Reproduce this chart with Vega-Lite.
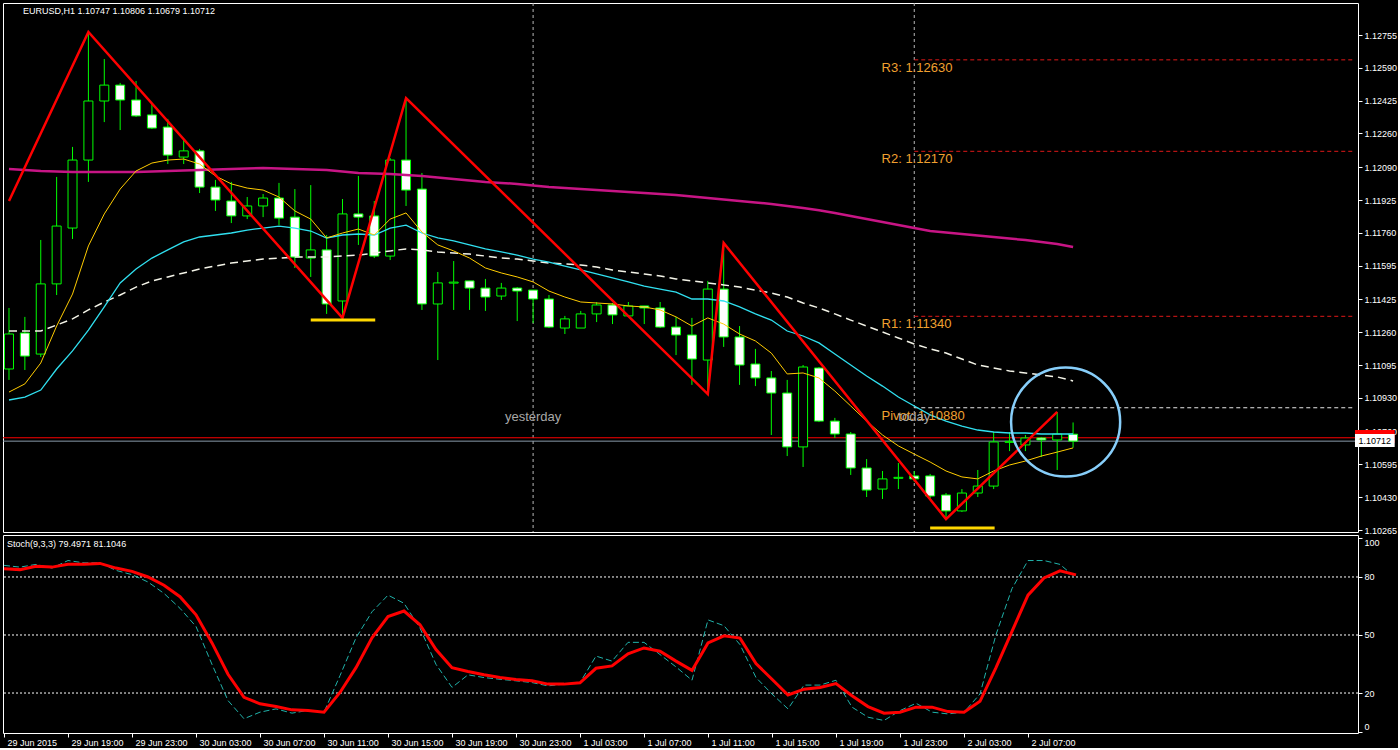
{
"$schema": "https://vega.github.io/schema/vega-lite/v6.json",
"background": "black",
"padding": {"left": 2, "top": 2, "right": 0, "bottom": 0},
"bounds": "flush",
"spacing": 3,
"config": {"view": {"stroke": "white", "strokeWidth": 1}, "font": "Liberation Sans", "axis": {"grid": false, "domain": false, "labelColor": "white", "tickColor": "white", "labelFontSize": 9, "labelFont": "Liberation Sans", "labelOverlap": false}},
"datasets": {
"bars": [
{"b":0,"o":1.11075,"h":1.11382,"l":1.11020,"c":1.11251,"m1":1.10959,"m2":1.10919,"m3":1.11266,"m4":1.12081,"k":86,"d":84.3},
{"b":1,"o":1.11256,"h":1.11337,"l":1.11070,"c":1.11140,"m1":1.11000,"m2":1.10934,"m3":1.11266,"m4":1.12076,"k":85.1,"d":83.8},
{"b":2,"o":1.11150,"h":1.11724,"l":1.11135,"c":1.11503,"m1":1.11105,"m2":1.10969,"m3":1.11266,"m4":1.12071,"k":86.5,"d":85.5},
{"b":3,"o":1.11503,"h":1.12041,"l":1.11447,"c":1.11794,"m1":1.11291,"m2":1.11075,"m3":1.11296,"m4":1.12068,"k":84.6,"d":85.1},
{"b":4,"o":1.11784,"h":1.12192,"l":1.11729,"c":1.12126,"m1":1.11452,"m2":1.11166,"m3":1.11327,"m4":1.12066,"k":88.5,"d":86.6},
{"b":5,"o":1.12126,"h":1.12770,"l":1.12016,"c":1.12423,"m1":1.11694,"m2":1.11271,"m3":1.11372,"m4":1.12066,"k":87.3,"d":86.6},
{"b":6,"o":1.12423,"h":1.12634,"l":1.12317,"c":1.12503,"m1":1.11855,"m2":1.11387,"m3":1.11412,"m4":1.12066,"k":87.3,"d":87},
{"b":7,"o":1.12503,"h":1.12514,"l":1.12277,"c":1.12428,"m1":1.11980,"m2":1.11508,"m3":1.11447,"m4":1.12066,"k":83.4,"d":84.6},
{"b":8,"o":1.12428,"h":1.12524,"l":1.12343,"c":1.12348,"m1":1.12071,"m2":1.11578,"m3":1.11487,"m4":1.12066,"k":81.2,"d":82.9},
{"b":9,"o":1.12353,"h":1.12408,"l":1.12282,"c":1.12287,"m1":1.12111,"m2":1.11633,"m3":1.11518,"m4":1.12068,"k":77.4,"d":80},
{"b":10,"o":1.12292,"h":1.12333,"l":1.12106,"c":1.12151,"m1":1.12126,"m2":1.11674,"m3":1.11538,"m4":1.12071,"k":71.5,"d":75.7},
{"b":11,"o":1.12141,"h":1.12232,"l":1.12106,"c":1.12172,"m1":1.12131,"m2":1.11714,"m3":1.11558,"m4":1.12074,"k":63.8,"d":69.8},
{"b":12,"o":1.12172,"h":1.12182,"l":1.11960,"c":1.11990,"m1":1.12106,"m2":1.11739,"m3":1.11578,"m4":1.12076,"k":54.4,"d":60.4},
{"b":13,"o":1.11990,"h":1.12026,"l":1.11870,"c":1.11925,"m1":1.12046,"m2":1.11749,"m3":1.11593,"m4":1.12079,"k":34.8,"d":45.9},
{"b":14,"o":1.11920,"h":1.12016,"l":1.11809,"c":1.11845,"m1":1.12006,"m2":1.11759,"m3":1.11608,"m4":1.12081,"k":16.1,"d":29.7},
{"b":15,"o":1.11845,"h":1.11940,"l":1.11829,"c":1.11895,"m1":1.11985,"m2":1.11774,"m3":1.11618,"m4":1.12084,"k":6.7,"d":17.8},
{"b":16,"o":1.11895,"h":1.11955,"l":1.11839,"c":1.11935,"m1":1.11975,"m2":1.11784,"m3":1.11628,"m4":1.12086,"k":10.1,"d":14.4},
{"b":17,"o":1.11935,"h":1.12011,"l":1.11799,"c":1.11834,"m1":1.11940,"m2":1.11794,"m3":1.11633,"m4":1.12084,"k":11.8,"d":13},
{"b":18,"o":1.11839,"h":1.11980,"l":1.11583,"c":1.11638,"m1":1.11870,"m2":1.11784,"m3":1.11638,"m4":1.12081,"k":9.6,"d":11.3},
{"b":19,"o":1.11633,"h":1.12000,"l":1.11538,"c":1.11674,"m1":1.11829,"m2":1.11769,"m3":1.11638,"m4":1.12079,"k":11,"d":11},
{"b":20,"o":1.11674,"h":1.11749,"l":1.11352,"c":1.11402,"m1":1.11734,"m2":1.11734,"m3":1.11638,"m4":1.12076,"k":10.1,"d":10.1},
{"b":21,"o":1.11417,"h":1.11930,"l":1.11332,"c":1.11855,"m1":1.11759,"m2":1.11749,"m3":1.11643,"m4":1.12068,"k":29,"d":20.3},
{"b":22,"o":1.11855,"h":1.12046,"l":1.11699,"c":1.11839,"m1":1.11779,"m2":1.11754,"m3":1.11648,"m4":1.12061,"k":48.5,"d":33.1},
{"b":23,"o":1.11845,"h":1.11920,"l":1.11633,"c":1.11643,"m1":1.11749,"m2":1.11749,"m3":1.11658,"m4":1.12058,"k":62,"d":48.5},
{"b":24,"o":1.11643,"h":1.12136,"l":1.11623,"c":1.12126,"m1":1.11829,"m2":1.11784,"m3":1.11669,"m4":1.12056,"k":70.6,"d":59.5},
{"b":25,"o":1.12126,"h":1.12438,"l":1.11895,"c":1.11975,"m1":1.11860,"m2":1.11799,"m3":1.11679,"m4":1.12051,"k":66.4,"d":62.4},
{"b":26,"o":1.11980,"h":1.12061,"l":1.11372,"c":1.11402,"m1":1.11764,"m2":1.11759,"m3":1.11674,"m4":1.12046,"k":53.6,"d":55.3},
{"b":27,"o":1.11402,"h":1.11563,"l":1.11120,"c":1.11508,"m1":1.11699,"m2":1.11734,"m3":1.11664,"m4":1.12038,"k":34.8,"d":42.5},
{"b":28,"o":1.11507,"h":1.11618,"l":1.11372,"c":1.11512,"m1":1.11669,"m2":1.11719,"m3":1.11658,"m4":1.12031,"k":22.9,"d":33.1},
{"b":29,"o":1.11518,"h":1.11518,"l":1.11372,"c":1.11482,"m1":1.11633,"m2":1.11699,"m3":1.11653,"m4":1.12023,"k":29.4,"d":31.1},
{"b":30,"o":1.11482,"h":1.11528,"l":1.11367,"c":1.11437,"m1":1.11583,"m2":1.11679,"m3":1.11643,"m4":1.12016,"k":28,"d":29.4},
{"b":31,"o":1.11442,"h":1.11508,"l":1.11422,"c":1.11482,"m1":1.11558,"m2":1.11664,"m3":1.11633,"m4":1.12011,"k":27.1,"d":28},
{"b":32,"o":1.11482,"h":1.11487,"l":1.11316,"c":1.11467,"m1":1.11538,"m2":1.11648,"m3":1.11628,"m4":1.12006,"k":26.3,"d":27},
{"b":33,"o":1.11472,"h":1.11472,"l":1.11306,"c":1.11427,"m1":1.11513,"m2":1.11628,"m3":1.11618,"m4":1.11998,"k":25.4,"d":26.3},
{"b":34,"o":1.11427,"h":1.11447,"l":1.11281,"c":1.11286,"m1":1.11467,"m2":1.11613,"m3":1.11608,"m4":1.11990,"k":23.7,"d":24.6},
{"b":35,"o":1.11281,"h":1.11342,"l":1.11251,"c":1.11327,"m1":1.11437,"m2":1.11593,"m3":1.11603,"m4":1.11985,"k":24.6,"d":24.6},
{"b":36,"o":1.11281,"h":1.11367,"l":1.11281,"c":1.11352,"m1":1.11412,"m2":1.11573,"m3":1.11598,"m4":1.11980,"k":25.4,"d":25.3},
{"b":37,"o":1.11352,"h":1.11412,"l":1.11311,"c":1.11397,"m1":1.11407,"m2":1.11553,"m3":1.11588,"m4":1.11975,"k":39.1,"d":32.8},
{"b":38,"o":1.11397,"h":1.11407,"l":1.11301,"c":1.11347,"m1":1.11402,"m2":1.11533,"m3":1.11573,"m4":1.11970,"k":36.5,"d":34},
{"b":39,"o":1.11342,"h":1.11412,"l":1.11342,"c":1.11392,"m1":1.11392,"m2":1.11513,"m3":1.11563,"m4":1.11965,"k":46.2,"d":40.3},
{"b":40,"o":1.11392,"h":1.11392,"l":1.11301,"c":1.11382,"m1":1.11387,"m2":1.11492,"m3":1.11553,"m4":1.11960,"k":46.2,"d":43.3},
{"b":41,"o":1.11382,"h":1.11412,"l":1.11281,"c":1.11286,"m1":1.11372,"m2":1.11477,"m3":1.11543,"m4":1.11955,"k":39.9,"d":41.6},
{"b":42,"o":1.11286,"h":1.11337,"l":1.11145,"c":1.11246,"m1":1.11337,"m2":1.11462,"m3":1.11528,"m4":1.11950,"k":33.5,"d":36.5},
{"b":43,"o":1.11246,"h":1.11332,"l":1.10995,"c":1.11125,"m1":1.11291,"m2":1.11427,"m3":1.11518,"m4":1.11943,"k":26.6,"d":31.7},
{"b":44,"o":1.11120,"h":1.11518,"l":1.10949,"c":1.11477,"m1":1.11332,"m2":1.11427,"m3":1.11508,"m4":1.11935,"k":57.8,"d":45.9},
{"b":45,"o":1.11477,"h":1.11709,"l":1.11186,"c":1.11236,"m1":1.11301,"m2":1.11417,"m3":1.11498,"m4":1.11928,"k":54.8,"d":49.6},
{"b":46,"o":1.11236,"h":1.11291,"l":1.10995,"c":1.11095,"m1":1.11251,"m2":1.11387,"m3":1.11487,"m4":1.11920,"k":45,"d":48.4},
{"b":47,"o":1.11100,"h":1.11176,"l":1.10989,"c":1.11030,"m1":1.11216,"m2":1.11352,"m3":1.11472,"m4":1.11913,"k":28,"d":35.2},
{"b":48,"o":1.11030,"h":1.11065,"l":1.10743,"c":1.10954,"m1":1.11155,"m2":1.11321,"m3":1.11457,"m4":1.11905,"k":19.5,"d":27.1},
{"b":49,"o":1.10954,"h":1.11020,"l":1.10637,"c":1.10683,"m1":1.11050,"m2":1.11266,"m3":1.11437,"m4":1.11895,"k":11.8,"d":19},
{"b":50,"o":1.10683,"h":1.11095,"l":1.10582,"c":1.11085,"m1":1.11055,"m2":1.11241,"m3":1.11407,"m4":1.11885,"k":24.1,"d":22},
{"b":51,"o":1.11080,"h":1.11085,"l":1.10808,"c":1.10813,"m1":1.11030,"m2":1.11206,"m3":1.11382,"m4":1.11873,"k":24.1,"d":22.9},
{"b":52,"o":1.10813,"h":1.10829,"l":1.10728,"c":1.10748,"m1":1.10964,"m2":1.11150,"m3":1.11352,"m4":1.11860,"k":26.6,"d":24.9},
{"b":53,"o":1.10748,"h":1.10758,"l":1.10542,"c":1.10577,"m1":1.10889,"m2":1.11095,"m3":1.11321,"m4":1.11845,"k":12.7,"d":18.6},
{"b":54,"o":1.10577,"h":1.10622,"l":1.10431,"c":1.10466,"m1":1.10813,"m2":1.11040,"m3":1.11291,"m4":1.11829,"k":7.5,"d":13},
{"b":55,"o":1.10471,"h":1.10562,"l":1.10421,"c":1.10522,"m1":1.10743,"m2":1.10989,"m3":1.11261,"m4":1.11814,"k":5.8,"d":9.6},
{"b":56,"o":1.10525,"h":1.10602,"l":1.10471,"c":1.10530,"m1":1.10688,"m2":1.10934,"m3":1.11231,"m4":1.11799,"k":10.9,"d":10.1},
{"b":57,"o":1.10537,"h":1.10562,"l":1.10507,"c":1.10522,"m1":1.10647,"m2":1.10889,"m3":1.11201,"m4":1.11784,"k":14.7,"d":12.7},
{"b":58,"o":1.10537,"h":1.10547,"l":1.10426,"c":1.10436,"m1":1.10607,"m2":1.10844,"m3":1.11176,"m4":1.11769,"k":10.1,"d":12.7},
{"b":59,"o":1.10441,"h":1.10451,"l":1.10320,"c":1.10361,"m1":1.10562,"m2":1.10813,"m3":1.11155,"m4":1.11761,"k":9.2,"d":10.4},
{"b":60,"o":1.10361,"h":1.10471,"l":1.10356,"c":1.10451,"m1":1.10532,"m2":1.10788,"m3":1.11125,"m4":1.11754,"k":10.1,"d":10.1},
{"b":61,"o":1.10451,"h":1.10567,"l":1.10431,"c":1.10486,"m1":1.10522,"m2":1.10768,"m3":1.11095,"m4":1.11746,"k":19.5,"d":15.7},
{"b":62,"o":1.10486,"h":1.10758,"l":1.10471,"c":1.10708,"m1":1.10562,"m2":1.10758,"m3":1.11080,"m4":1.11739,"k":50.2,"d":33.1},
{"b":63,"o":1.10706,"h":1.10758,"l":1.10662,"c":1.10711,"m1":1.10592,"m2":1.10753,"m3":1.11065,"m4":1.11731,"k":74,"d":51.9},
{"b":64,"o":1.10693,"h":1.10743,"l":1.10662,"c":1.10728,"m1":1.10612,"m2":1.10753,"m3":1.11055,"m4":1.11724,"k":88.5,"d":70.6},
{"b":65,"o":1.10728,"h":1.10733,"l":1.10632,"c":1.10718,"m1":1.10637,"m2":1.10748,"m3":1.11045,"m4":1.11714,"k":88.5,"d":79.5},
{"b":66,"o":1.10718,"h":1.10859,"l":1.10567,"c":1.10748,"m1":1.10657,"m2":1.10748,"m3":1.11035,"m4":1.11704,"k":86.5,"d":83.2},
{"b":67,"o":1.10747,"h":1.10806,"l":1.10679,"c":1.10712,"m1":1.10678,"m2":1.10748,"m3":1.11015,"m4":1.11689,"k":79.5,"d":81.1}
],
"zz": [{"b":0,"p":1.11920},{"b":5,"p":1.12770},{"b":21,"p":1.11332},{"b":25,"p":1.12438},{"b":44,"p":1.10949},{"b":45,"p":1.11709},{"b":59,"p":1.10320},{"b":66,"p":1.10859}],
"piv": [{"name":"R3","p":1.1263,"lbl":"R3: 1.12630"},{"name":"R2","p":1.1217,"lbl":"R2: 1.12170"},{"name":"R1","p":1.1134,"lbl":"R1: 1.11340"},{"name":"Pivot","p":1.1088,"lbl":"Pivot: 1.10880"}],
"days": [{"b":33,"t":"yesterday"},{"b":57,"t":"today"}],
"ab": [{"p":1.10729,"t":"ask"},{"p":1.10712,"t":"bid"}],
"sup": [{"b":19,"b2":23.06,"p":1.11321},{"b":58,"b2":62.06,"p":1.10275}],
"lv": [{"v":20},{"v":50},{"v":80}],
"circ": [{"b":66.53,"p":1.10808}],
"ttl": [{"b":0.875,"p":1.12876,"t":"EURUSD,H1  1.10747 1.10806 1.10679 1.10712"}],
"tag": [{"b":84.75,"b2":87.25,"bc":86,"p1":1.10768,"p2":1.10703,"w1":1.10748,"w2":1.10683,"pc":1.10715,"t":"1.10712"}],
"sttl": [{"b":0.19,"v":97.05,"t":"Stoch(9,3,3) 79.4971 81.1046"}]
},
"vconcat": [
{
"width": 1355, "height": 529,
"layer": [
{"data": {"name": "days"}, "mark": {"type": "rule", "color": "#B8B8B8", "strokeDash": [3,3], "strokeWidth": 1},
 "encoding": {"x": {"field": "b", "type": "quantitative", "scale": {"domain": [-0.0625, 84.625], "nice": false, "zero": false}, "axis": null, "title": null}}},
{"data": {"name": "piv"}, "mark": {"type": "rule", "strokeDash": [4,3], "strokeWidth": 1},
 "encoding": {"x": {"datum": 57, "type": "quantitative", "scale": {"domain": [-0.0625, 84.625], "nice": false, "zero": false}, "axis": null, "title": null},
  "x2": {"datum": 84.625},
  "y": {"field": "p", "type": "quantitative", "scale": {"domain": [1.10255, 1.12916], "nice": false, "zero": false}, "title": null, "axis": {"orient": "right", "values": [1.12755,1.1259,1.12425,1.1226,1.1209,1.11925,1.1176,1.11595,1.11425,1.1126,1.11095,1.1093,1.1076,1.10595,1.1043,1.10265], "format": ".5f", "tickSize": 4, "labelPadding": 2, "labelFontSize": 9, "labelColor": "white", "tickColor": "white", "domain": false, "grid": false, "labelBaseline": "middle", "labelOverlap": false, "labelBound": false, "labelFlush": false}},
  "color": {"condition": {"test": "datum.name == 'Pivot'", "value": "#E8E8E8"}, "value": "#E01818"}}},
{"data": {"name": "ab"}, "mark": {"type": "rule", "strokeWidth": 1},
 "encoding": {"y": {"field": "p", "type": "quantitative", "scale": {"domain": [1.10255, 1.12916], "nice": false, "zero": false}, "title": null, "axis": {"orient": "right", "values": [1.12755,1.1259,1.12425,1.1226,1.1209,1.11925,1.1176,1.11595,1.11425,1.1126,1.11095,1.1093,1.1076,1.10595,1.1043,1.10265], "format": ".5f", "tickSize": 4, "labelPadding": 2, "labelFontSize": 9, "labelColor": "white", "tickColor": "white", "domain": false, "grid": false, "labelBaseline": "middle", "labelOverlap": false, "labelBound": false, "labelFlush": false}},
  "color": {"condition": {"test": "datum.t == 'ask'", "value": "#FF0000"}, "value": "#8A9AAA"}}},
{"data": {"name": "bars"}, "mark": {"type": "rule", "color": "#00FF00", "strokeWidth": 1, "clip": true},
 "encoding": {"x": {"field": "b", "type": "quantitative", "scale": {"domain": [-0.0625, 84.625], "nice": false, "zero": false}, "axis": null, "title": null},
  "y": {"field": "l", "type": "quantitative", "scale": {"domain": [1.10255, 1.12916], "nice": false, "zero": false}, "title": null, "axis": {"orient": "right", "values": [1.12755,1.1259,1.12425,1.1226,1.1209,1.11925,1.1176,1.11595,1.11425,1.1126,1.11095,1.1093,1.1076,1.10595,1.1043,1.10265], "format": ".5f", "tickSize": 4, "labelPadding": 2, "labelFontSize": 9, "labelColor": "white", "tickColor": "white", "domain": false, "grid": false, "labelBaseline": "middle", "labelOverlap": false, "labelBound": false, "labelFlush": false}},
  "y2": {"field": "h"}}},
{"data": {"name": "bars"}, "mark": {"type": "bar", "size": 9, "stroke": "#00FF00", "strokeWidth": 1, "clip": true},
 "encoding": {"x": {"field": "b", "type": "quantitative", "scale": {"domain": [-0.0625, 84.625], "nice": false, "zero": false}, "axis": null, "title": null},
  "y": {"field": "o", "type": "quantitative", "scale": {"domain": [1.10255, 1.12916], "nice": false, "zero": false}, "title": null, "axis": {"orient": "right", "values": [1.12755,1.1259,1.12425,1.1226,1.1209,1.11925,1.1176,1.11595,1.11425,1.1126,1.11095,1.1093,1.1076,1.10595,1.1043,1.10265], "format": ".5f", "tickSize": 4, "labelPadding": 2, "labelFontSize": 9, "labelColor": "white", "tickColor": "white", "domain": false, "grid": false, "labelBaseline": "middle", "labelOverlap": false, "labelBound": false, "labelFlush": false}},
  "y2": {"field": "c"},
  "fill": {"condition": {"test": "datum.c >= datum.o", "value": "black"}, "value": "white"}}},
{"data": {"name": "bars"}, "mark": {"type": "line", "color": "#C71585", "strokeWidth": 2.5, "clip": true},
 "encoding": {"x": {"field": "b", "type": "quantitative", "scale": {"domain": [-0.0625, 84.625], "nice": false, "zero": false}, "axis": null, "title": null},
  "y": {"field": "m4", "type": "quantitative", "scale": {"domain": [1.10255, 1.12916], "nice": false, "zero": false}, "title": null, "axis": {"orient": "right", "values": [1.12755,1.1259,1.12425,1.1226,1.1209,1.11925,1.1176,1.11595,1.11425,1.1126,1.11095,1.1093,1.1076,1.10595,1.1043,1.10265], "format": ".5f", "tickSize": 4, "labelPadding": 2, "labelFontSize": 9, "labelColor": "white", "tickColor": "white", "domain": false, "grid": false, "labelBaseline": "middle", "labelOverlap": false, "labelBound": false, "labelFlush": false}}}},
{"data": {"name": "bars"}, "mark": {"type": "line", "color": "#F4F4E8", "strokeWidth": 1.5, "strokeDash": [8,5], "clip": true},
 "encoding": {"x": {"field": "b", "type": "quantitative", "scale": {"domain": [-0.0625, 84.625], "nice": false, "zero": false}, "axis": null, "title": null},
  "y": {"field": "m3", "type": "quantitative", "scale": {"domain": [1.10255, 1.12916], "nice": false, "zero": false}, "title": null, "axis": {"orient": "right", "values": [1.12755,1.1259,1.12425,1.1226,1.1209,1.11925,1.1176,1.11595,1.11425,1.1126,1.11095,1.1093,1.1076,1.10595,1.1043,1.10265], "format": ".5f", "tickSize": 4, "labelPadding": 2, "labelFontSize": 9, "labelColor": "white", "tickColor": "white", "domain": false, "grid": false, "labelBaseline": "middle", "labelOverlap": false, "labelBound": false, "labelFlush": false}}}},
{"data": {"name": "bars"}, "mark": {"type": "line", "color": "#30E0F0", "strokeWidth": 1.3, "clip": true},
 "encoding": {"x": {"field": "b", "type": "quantitative", "scale": {"domain": [-0.0625, 84.625], "nice": false, "zero": false}, "axis": null, "title": null},
  "y": {"field": "m2", "type": "quantitative", "scale": {"domain": [1.10255, 1.12916], "nice": false, "zero": false}, "title": null, "axis": {"orient": "right", "values": [1.12755,1.1259,1.12425,1.1226,1.1209,1.11925,1.1176,1.11595,1.11425,1.1126,1.11095,1.1093,1.1076,1.10595,1.1043,1.10265], "format": ".5f", "tickSize": 4, "labelPadding": 2, "labelFontSize": 9, "labelColor": "white", "tickColor": "white", "domain": false, "grid": false, "labelBaseline": "middle", "labelOverlap": false, "labelBound": false, "labelFlush": false}}}},
{"data": {"name": "bars"}, "mark": {"type": "line", "color": "#FFCC00", "strokeWidth": 1, "clip": true},
 "encoding": {"x": {"field": "b", "type": "quantitative", "scale": {"domain": [-0.0625, 84.625], "nice": false, "zero": false}, "axis": null, "title": null},
  "y": {"field": "m1", "type": "quantitative", "scale": {"domain": [1.10255, 1.12916], "nice": false, "zero": false}, "title": null, "axis": {"orient": "right", "values": [1.12755,1.1259,1.12425,1.1226,1.1209,1.11925,1.1176,1.11595,1.11425,1.1126,1.11095,1.1093,1.1076,1.10595,1.1043,1.10265], "format": ".5f", "tickSize": 4, "labelPadding": 2, "labelFontSize": 9, "labelColor": "white", "tickColor": "white", "domain": false, "grid": false, "labelBaseline": "middle", "labelOverlap": false, "labelBound": false, "labelFlush": false}}}},
{"data": {"name": "zz"}, "mark": {"type": "line", "color": "#FF0000", "strokeWidth": 2.5, "clip": true},
 "encoding": {"x": {"field": "b", "type": "quantitative", "scale": {"domain": [-0.0625, 84.625], "nice": false, "zero": false}, "axis": null, "title": null},
  "y": {"field": "p", "type": "quantitative", "scale": {"domain": [1.10255, 1.12916], "nice": false, "zero": false}, "title": null, "axis": {"orient": "right", "values": [1.12755,1.1259,1.12425,1.1226,1.1209,1.11925,1.1176,1.11595,1.11425,1.1126,1.11095,1.1093,1.1076,1.10595,1.1043,1.10265], "format": ".5f", "tickSize": 4, "labelPadding": 2, "labelFontSize": 9, "labelColor": "white", "tickColor": "white", "domain": false, "grid": false, "labelBaseline": "middle", "labelOverlap": false, "labelBound": false, "labelFlush": false}}}},
{"data": {"name": "sup"}, "mark": {"type": "rule", "color": "#FFD700", "strokeWidth": 3},
 "encoding": {"x": {"field": "b", "type": "quantitative", "scale": {"domain": [-0.0625, 84.625], "nice": false, "zero": false}, "axis": null, "title": null},
  "x2": {"field": "b2"},
  "y": {"field": "p", "type": "quantitative", "scale": {"domain": [1.10255, 1.12916], "nice": false, "zero": false}, "title": null, "axis": {"orient": "right", "values": [1.12755,1.1259,1.12425,1.1226,1.1209,1.11925,1.1176,1.11595,1.11425,1.1126,1.11095,1.1093,1.1076,1.10595,1.1043,1.10265], "format": ".5f", "tickSize": 4, "labelPadding": 2, "labelFontSize": 9, "labelColor": "white", "tickColor": "white", "domain": false, "grid": false, "labelBaseline": "middle", "labelOverlap": false, "labelBound": false, "labelFlush": false}}}},
{"data": {"name": "piv"}, "mark": {"type": "text", "align": "left", "baseline": "middle", "dy": 8, "fontSize": 13, "font": "Liberation Sans", "color": "#F0A030"},
 "encoding": {"x": {"datum": 54.94, "type": "quantitative", "scale": {"domain": [-0.0625, 84.625], "nice": false, "zero": false}, "axis": null, "title": null},
  "y": {"field": "p", "type": "quantitative", "scale": {"domain": [1.10255, 1.12916], "nice": false, "zero": false}, "title": null, "axis": {"orient": "right", "values": [1.12755,1.1259,1.12425,1.1226,1.1209,1.11925,1.1176,1.11595,1.11425,1.1126,1.11095,1.1093,1.1076,1.10595,1.1043,1.10265], "format": ".5f", "tickSize": 4, "labelPadding": 2, "labelFontSize": 9, "labelColor": "white", "tickColor": "white", "domain": false, "grid": false, "labelBaseline": "middle", "labelOverlap": false, "labelBound": false, "labelFlush": false}},
  "text": {"field": "lbl"}}},
{"data": {"name": "days"}, "mark": {"type": "text", "align": "center", "baseline": "middle", "fontSize": 13, "font": "Liberation Sans", "color": "#A8A8A8"},
 "encoding": {"x": {"field": "b", "type": "quantitative", "scale": {"domain": [-0.0625, 84.625], "nice": false, "zero": false}, "axis": null, "title": null},
  "y": {"datum": 1.10834, "type": "quantitative", "scale": {"domain": [1.10255, 1.12916], "nice": false, "zero": false}, "title": null, "axis": {"orient": "right", "values": [1.12755,1.1259,1.12425,1.1226,1.1209,1.11925,1.1176,1.11595,1.11425,1.1126,1.11095,1.1093,1.1076,1.10595,1.1043,1.10265], "format": ".5f", "tickSize": 4, "labelPadding": 2, "labelFontSize": 9, "labelColor": "white", "tickColor": "white", "domain": false, "grid": false, "labelBaseline": "middle", "labelOverlap": false, "labelBound": false, "labelFlush": false}},
  "text": {"field": "t"}}},
{"data": {"name": "circ"}, "mark": {"type": "point", "shape": "circle", "filled": false, "size": 11900, "stroke": "#87CEFA", "strokeWidth": 2.5, "opacity": 1},
 "encoding": {"x": {"field": "b", "type": "quantitative", "scale": {"domain": [-0.0625, 84.625], "nice": false, "zero": false}, "axis": null, "title": null},
  "y": {"field": "p", "type": "quantitative", "scale": {"domain": [1.10255, 1.12916], "nice": false, "zero": false}, "title": null, "axis": {"orient": "right", "values": [1.12755,1.1259,1.12425,1.1226,1.1209,1.11925,1.1176,1.11595,1.11425,1.1126,1.11095,1.1093,1.1076,1.10595,1.1043,1.10265], "format": ".5f", "tickSize": 4, "labelPadding": 2, "labelFontSize": 9, "labelColor": "white", "tickColor": "white", "domain": false, "grid": false, "labelBaseline": "middle", "labelOverlap": false, "labelBound": false, "labelFlush": false}}}},
{"data": {"name": "ttl"}, "mark": {"type": "text", "align": "left", "baseline": "middle", "fontSize": 9, "font": "Liberation Sans", "color": "white"},
 "encoding": {"x": {"field": "b", "type": "quantitative", "scale": {"domain": [-0.0625, 84.625], "nice": false, "zero": false}, "axis": null, "title": null},
  "y": {"field": "p", "type": "quantitative", "scale": {"domain": [1.10255, 1.12916], "nice": false, "zero": false}, "title": null, "axis": {"orient": "right", "values": [1.12755,1.1259,1.12425,1.1226,1.1209,1.11925,1.1176,1.11595,1.11425,1.1126,1.11095,1.1093,1.1076,1.10595,1.1043,1.10265], "format": ".5f", "tickSize": 4, "labelPadding": 2, "labelFontSize": 9, "labelColor": "white", "tickColor": "white", "domain": false, "grid": false, "labelBaseline": "middle", "labelOverlap": false, "labelBound": false, "labelFlush": false}},
  "text": {"field": "t"}}},
{"data": {"name": "tag"}, "mark": {"type": "rect", "color": "#FF0000", "clip": false},
 "encoding": {"x": {"field": "b", "type": "quantitative", "scale": {"domain": [-0.0625, 84.625], "nice": false, "zero": false}, "axis": null, "title": null},
  "x2": {"field": "b2"},
  "y": {"field": "p1", "type": "quantitative", "scale": {"domain": [1.10255, 1.12916], "nice": false, "zero": false}, "title": null, "axis": {"orient": "right", "values": [1.12755,1.1259,1.12425,1.1226,1.1209,1.11925,1.1176,1.11595,1.11425,1.1126,1.11095,1.1093,1.1076,1.10595,1.1043,1.10265], "format": ".5f", "tickSize": 4, "labelPadding": 2, "labelFontSize": 9, "labelColor": "white", "tickColor": "white", "domain": false, "grid": false, "labelBaseline": "middle", "labelOverlap": false, "labelBound": false, "labelFlush": false}},
  "y2": {"field": "p2"}}},
{"data": {"name": "tag"}, "mark": {"type": "rect", "color": "white", "clip": false},
 "encoding": {"x": {"field": "b", "type": "quantitative", "scale": {"domain": [-0.0625, 84.625], "nice": false, "zero": false}, "axis": null, "title": null},
  "x2": {"field": "b2"},
  "y": {"field": "w1", "type": "quantitative", "scale": {"domain": [1.10255, 1.12916], "nice": false, "zero": false}, "title": null, "axis": {"orient": "right", "values": [1.12755,1.1259,1.12425,1.1226,1.1209,1.11925,1.1176,1.11595,1.11425,1.1126,1.11095,1.1093,1.1076,1.10595,1.1043,1.10265], "format": ".5f", "tickSize": 4, "labelPadding": 2, "labelFontSize": 9, "labelColor": "white", "tickColor": "white", "domain": false, "grid": false, "labelBaseline": "middle", "labelOverlap": false, "labelBound": false, "labelFlush": false}},
  "y2": {"field": "w2"}}},
{"data": {"name": "tag"}, "mark": {"type": "text", "align": "center", "baseline": "middle", "fontSize": 9, "font": "Liberation Sans", "color": "black"},
 "encoding": {"x": {"field": "bc", "type": "quantitative", "scale": {"domain": [-0.0625, 84.625], "nice": false, "zero": false}, "axis": null, "title": null},
  "y": {"field": "pc", "type": "quantitative", "scale": {"domain": [1.10255, 1.12916], "nice": false, "zero": false}, "title": null, "axis": {"orient": "right", "values": [1.12755,1.1259,1.12425,1.1226,1.1209,1.11925,1.1176,1.11595,1.11425,1.1126,1.11095,1.1093,1.1076,1.10595,1.1043,1.10265], "format": ".5f", "tickSize": 4, "labelPadding": 2, "labelFontSize": 9, "labelColor": "white", "tickColor": "white", "domain": false, "grid": false, "labelBaseline": "middle", "labelOverlap": false, "labelBound": false, "labelFlush": false}},
  "text": {"field": "t"}}}
]
},
{
"width": 1355, "height": 198,
"layer": [
{"data": {"name": "lv"}, "mark": {"type": "rule", "color": "white", "strokeDash": [2,2], "strokeWidth": 1},
 "encoding": {"y": {"field": "v", "type": "quantitative", "scale": {"domain": [-0.67, 101.7], "nice": false, "zero": false}, "title": null,
   "axis": {"orient": "right", "values": [0,20,50,80,100], "tickSize": 4, "labelPadding": 2, "labelFontSize": 9, "labelColor": "white", "tickColor": "white", "domain": false, "grid": false, "labelFlush": 5, "labelOverlap": false}}}},
{"data": {"name": "bars"}, "mark": {"type": "line", "color": "#20B2AA", "strokeWidth": 1, "strokeDash": [6,3], "clip": true},
 "encoding": {"x": {"field": "b", "type": "quantitative", "scale": {"domain": [-0.0625, 84.625], "nice": false, "zero": false}, "title": null,
   "axis": {"orient": "bottom", "values": [0,4,8,12,16,20,24,28,32,36,40,44,48,52,56,60,64], "tickSize": 4, "labelAlign": "left", "labelBaseline": "top", "labelPadding": 1, "labelOffset": 3, "labelFontSize": 9, "labelColor": "white", "tickColor": "white", "domain": false, "grid": false, "labelOverlap": false, "labelFlush": false, "labelBound": false,
    "labelExpr": "datum.value == 0 ? '29 Jun 2015' : (floor((datum.value + 15) / 24) >= 2 ? (floor((datum.value + 15) / 24) - 1) + ' Jul ' : (floor((datum.value + 15) / 24) + 29) + ' Jun ') + (((datum.value + 15) % 24) < 10 ? '0' : '') + ((datum.value + 15) % 24) + ':00'"}},
  "y": {"field": "k", "type": "quantitative", "scale": {"domain": [-0.67, 101.7], "nice": false, "zero": false}, "title": null}}},
{"data": {"name": "bars"}, "mark": {"type": "line", "color": "#FF0000", "strokeWidth": 3, "clip": true},
 "encoding": {"x": {"field": "b", "type": "quantitative", "scale": {"domain": [-0.0625, 84.625], "nice": false, "zero": false}, "title": null},
  "y": {"field": "d", "type": "quantitative", "scale": {"domain": [-0.67, 101.7], "nice": false, "zero": false}, "title": null}}},
{"data": {"name": "sttl"}, "mark": {"type": "text", "align": "left", "baseline": "middle", "fontSize": 9, "font": "Liberation Sans", "color": "white"},
 "encoding": {"x": {"field": "b", "type": "quantitative", "scale": {"domain": [-0.0625, 84.625], "nice": false, "zero": false}, "title": null},
  "y": {"field": "v", "type": "quantitative", "scale": {"domain": [-0.67, 101.7], "nice": false, "zero": false}, "title": null},
  "text": {"field": "t"}}}
]
}
]
}
